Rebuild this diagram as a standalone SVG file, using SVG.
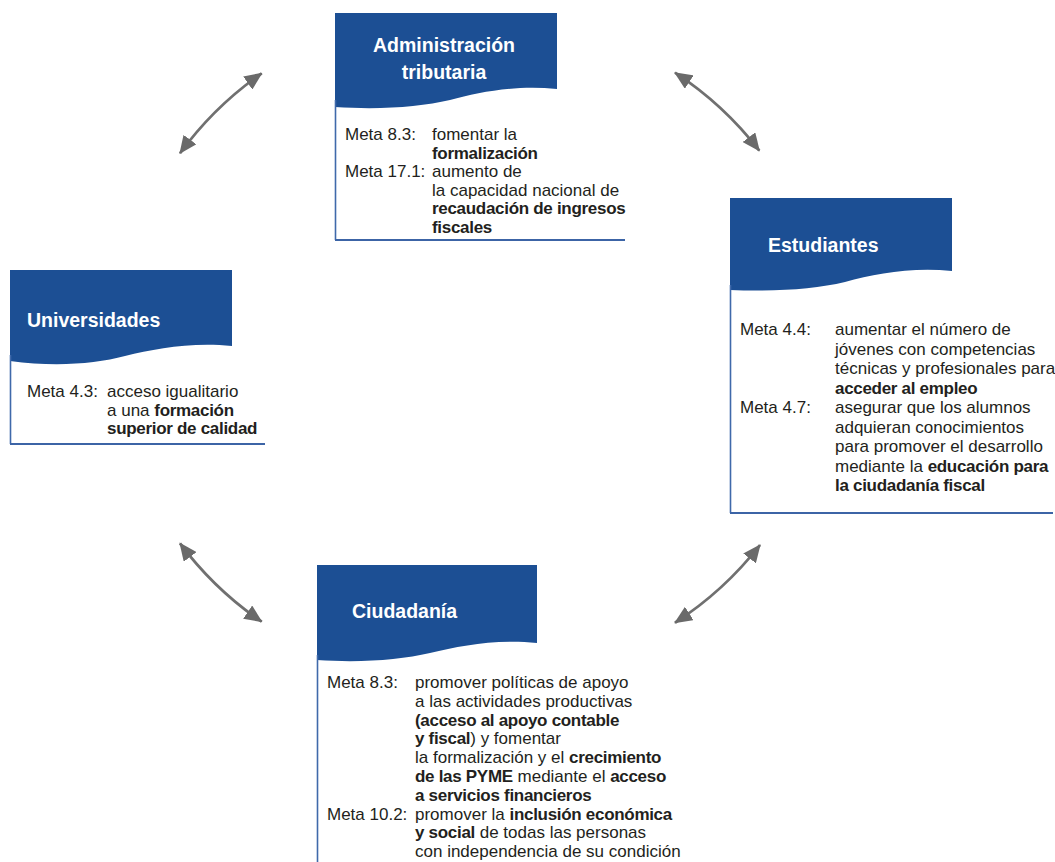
<svg xmlns="http://www.w3.org/2000/svg" width="1055" height="862" viewBox="0 0 1055 862">
<style>
.hdr{fill:#1c4f94}
.frame{fill:none;stroke:#3f69aa;stroke-width:1.6}
.base{fill:none;stroke:#3c64a6;stroke-width:2}
.title{font-family:"Liberation Sans",Arial,sans-serif;font-size:19.5px;font-weight:bold;fill:#ffffff}
.t{font-family:"Liberation Sans",Arial,sans-serif;font-size:17px;fill:#231f20}
.b{font-weight:bold;letter-spacing:-0.3px}
.arr{fill:none;stroke:#707070;stroke-width:2.8;marker-start:url(#ah);marker-end:url(#ah)}
</style>
<defs>
<marker id="ah" viewBox="0 0 18 16" markerUnits="userSpaceOnUse" markerWidth="18" markerHeight="16" refX="17" refY="8" orient="auto-start-reverse">
<path d="M0,0 L18,8 L0,16 Z" fill="#6a6a6a"/>
</marker>
</defs>
<rect width="1055" height="862" fill="#ffffff"/>

<g id="connectors">
<path class="arr" d="M261.7,73.3 A345,345 0 0 0 180,153.3"/>
<path class="arr" d="M675,72.7 A345,345 0 0 1 759.3,150.7"/>
<path class="arr" d="M180,543.3 A345,345 0 0 0 261.7,621.7"/>
<path class="arr" d="M760,545 A345,345 0 0 1 675,622.7"/>
</g>

<g id="node-administracion">
<path class="hdr" d="M335,13 H557 V89 C515,85 480,92 450,100 C420,107 380,110 335,107 Z"/>
<path class="frame" d="M335.5,100 V240"/>
<path class="base" d="M335,240 H625"/>
<text class="title" x="444" y="52" text-anchor="middle">Administración</text>
<text class="title" x="444" y="78.5" text-anchor="middle">tributaria</text>
<text class="t" x="345" y="140">Meta 8.3:</text>
<text class="t" x="432" y="140">fomentar la</text>
<text class="t" x="432" y="158.5"><tspan class="b">formalización</tspan></text>
<text class="t" x="345" y="177">Meta 17.1:</text>
<text class="t" x="432" y="177">aumento de</text>
<text class="t" x="432" y="195.5">la capacidad nacional de</text>
<text class="t" x="432" y="214"><tspan class="b">recaudación de ingresos</tspan></text>
<text class="t" x="432" y="232.5"><tspan class="b">fiscales</tspan></text>
</g>

<g id="node-estudiantes">
<path class="hdr" d="M730,198 H952 V271 C910,267 875,274 845,282 C815,289 775,292 730,290 Z"/>
<path class="frame" d="M730.5,285 V513"/>
<path class="base" d="M730,513 H1053"/>
<text class="title" x="768" y="252">Estudiantes</text>
<text class="t" x="740" y="335">Meta 4.4:</text>
<text class="t" x="835" y="335">aumentar el número de</text>
<text class="t" x="835" y="354.5">jóvenes con competencias</text>
<text class="t" x="835" y="374">técnicas y profesionales para</text>
<text class="t" x="835" y="393.5"><tspan class="b">acceder al empleo</tspan></text>
<text class="t" x="740" y="413">Meta 4.7:</text>
<text class="t" x="835" y="413">asegurar que los alumnos</text>
<text class="t" x="835" y="432.5">adquieran conocimientos</text>
<text class="t" x="835" y="452">para promover el desarrollo</text>
<text class="t" x="835" y="471.5">mediante la <tspan class="b">educación para</tspan></text>
<text class="t" x="835" y="491"><tspan class="b">la ciudadanía fiscal</tspan></text>
</g>

<g id="node-universidades">
<path class="hdr" d="M10,270 H232 V346 C190,342 155,349 125,356 C95,364 55,367 10,361 Z"/>
<path class="frame" d="M10.5,355 V444"/>
<path class="base" d="M10,444 H265"/>
<text class="title" x="27" y="327">Universidades</text>
<text class="t" x="27" y="397">Meta 4.3:</text>
<text class="t" x="107" y="397">acceso igualitario</text>
<text class="t" x="107" y="415.5">a una <tspan class="b">formación</tspan></text>
<text class="t" x="107" y="434"><tspan class="b">superior de calidad</tspan></text>
</g>

<g id="node-ciudadania">
<path class="hdr" d="M317,565 H537 V643 C495,639 460,646 430,653 C400,660 360,663 317,660 Z"/>
<path class="frame" d="M317.5,655 V862"/>
<text class="title" x="352" y="618">Ciudadanía</text>
<text class="t" x="327" y="688">Meta 8.3:</text>
<text class="t" x="415" y="688">promover políticas de apoyo</text>
<text class="t" x="415" y="706.8">a las actividades productivas</text>
<text class="t" x="415" y="725.6"><tspan class="b">(acceso al apoyo contable</tspan></text>
<text class="t" x="415" y="744.4"><tspan class="b">y fiscal</tspan>) y fomentar</text>
<text class="t" x="415" y="763.2">la formalización y el <tspan class="b">crecimiento</tspan></text>
<text class="t" x="415" y="782"><tspan class="b">de las PYME</tspan> mediante el <tspan class="b">acceso</tspan></text>
<text class="t" x="415" y="800.8"><tspan class="b">a servicios financieros</tspan></text>
<text class="t" x="327" y="819.6">Meta 10.2:</text>
<text class="t" x="415" y="819.6">promover la <tspan class="b">inclusión económica</tspan></text>
<text class="t" x="415" y="838.4"><tspan class="b">y social</tspan> de todas las personas</text>
<text class="t" x="415" y="857.2">con independencia de su condición</text>
</g>
</svg>
